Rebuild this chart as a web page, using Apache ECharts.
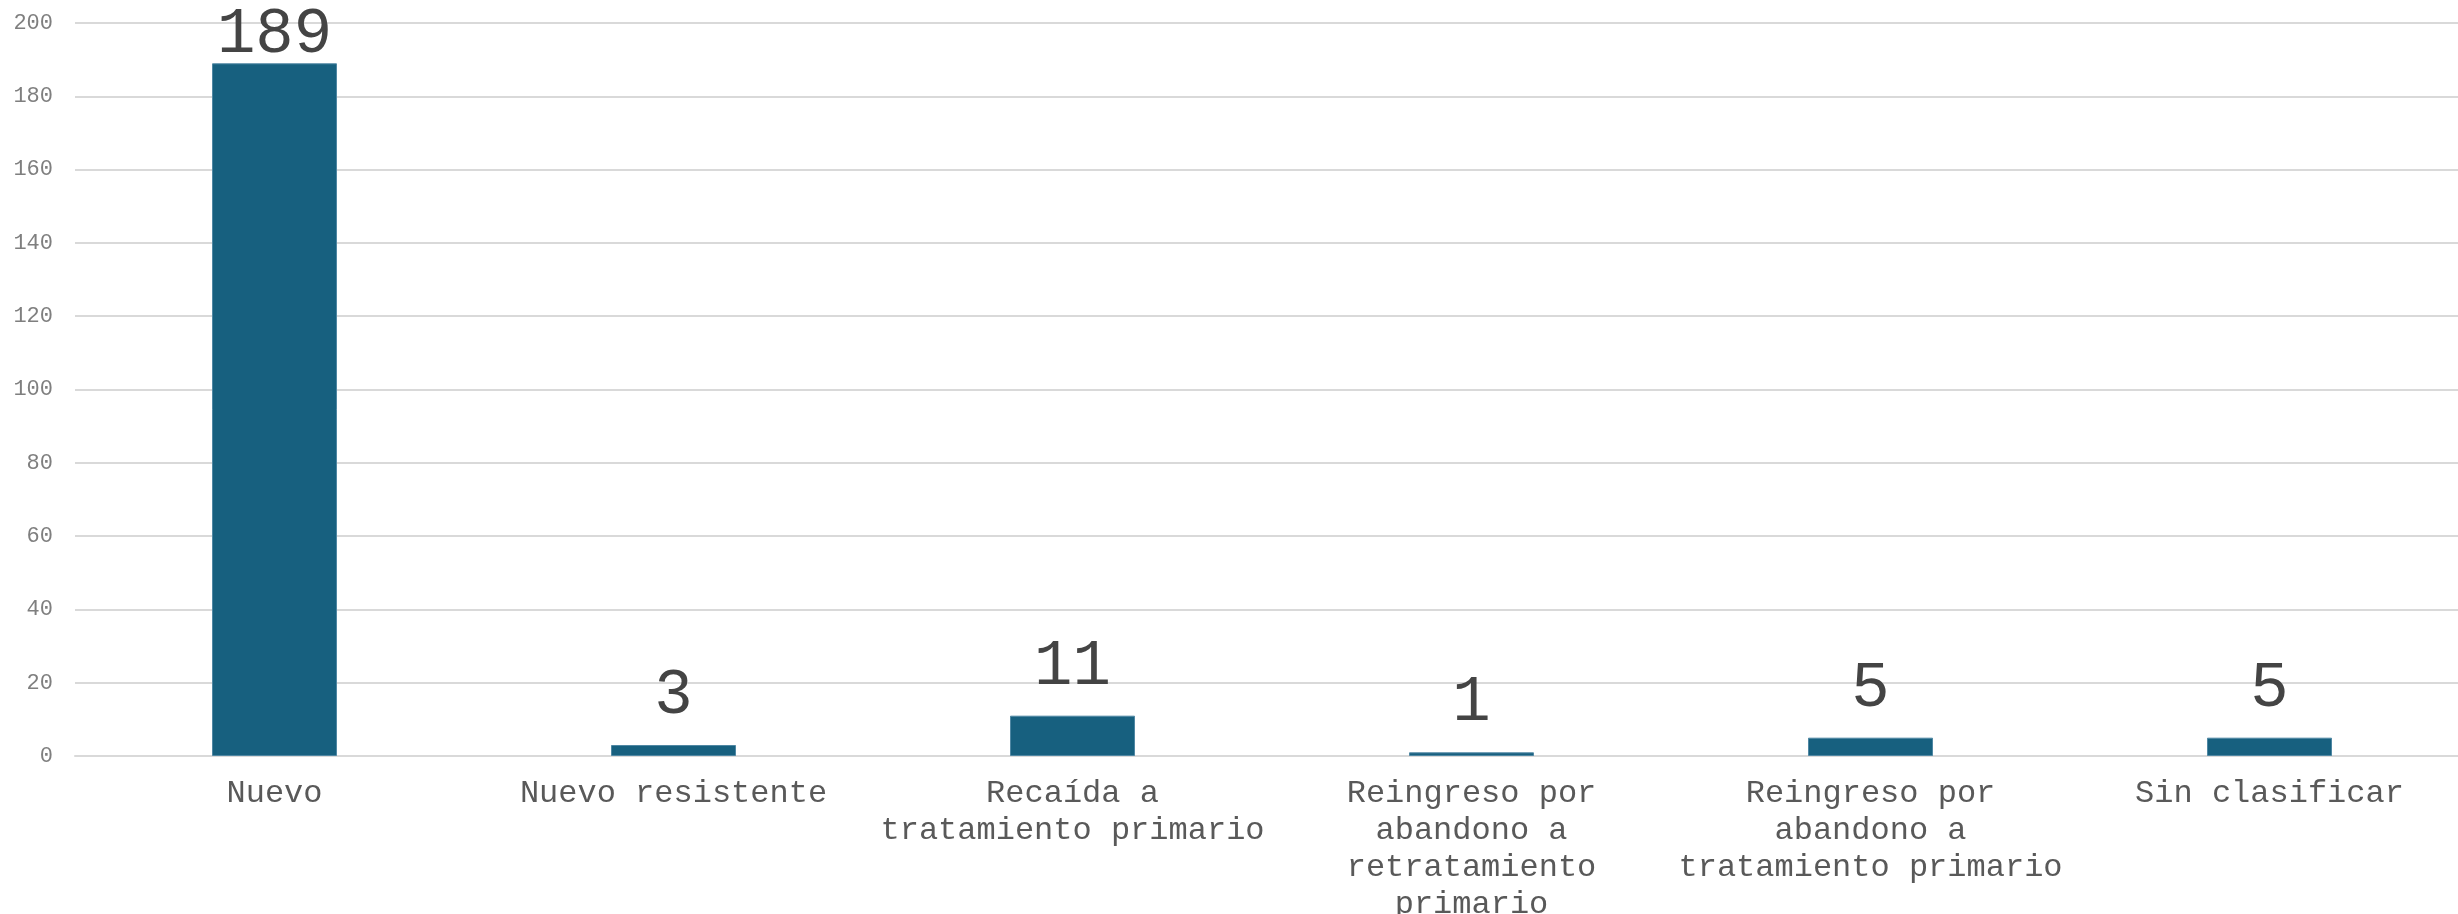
<!DOCTYPE html>
<html>
<head>
<meta charset="utf-8">
<script src="https://cdn.jsdelivr.net/npm/echarts@6/dist/echarts.min.js"></script>
<style>
  html, body { margin: 0; padding: 0; background: #ffffff; }
  #chart { width: 2458px; height: 914px; }
</style>
</head>
<body>
<div id="chart"></div>
<script>
const categories = [
  'Nuevo',
  'Nuevo resistente',
  'Recaída a\ntratamiento primario',
  'Reingreso por\nabandono a\nretratamiento\nprimario',
  'Reingreso por\nabandono a\ntratamiento primario',
  'Sin clasificar'
];
const values = [189, 3, 11, 1, 5, 5];
const yMin = 0, yMax = 200, yInterval = 20;

const chart = echarts.init(document.getElementById('chart'));
chart.setOption({
  backgroundColor: '#ffffff',
  animation: false,
  grid: { left: 75, right: -11, top: 23, bottom: 158, containLabel: false, outerBoundsMode: 'none' },
  xAxis: {
    type: 'category',
    data: categories,
    axisLine: { show: true, lineStyle: { color: '#d9d9d9', width: 2 } },
    axisTick: { show: false },
    axisLabel: {
      interval: 0,
      margin: 19,
      fontFamily: 'Liberation Mono',
      fontSize: 32,
      lineHeight: 37,
      color: '#595959',
      align: 'center'
    }
  },
  yAxis: {
    type: 'value',
    min: yMin, max: yMax, interval: yInterval,
    axisLine: { show: false },
    axisTick: { show: false },
    splitLine: { lineStyle: { color: '#d9d9d9', width: 2 } },
    axisLabel: {
      margin: 22,
      fontFamily: 'Liberation Mono',
      fontSize: 22,
      color: '#7f7f7f'
    }
  },
  series: [{
    type: 'bar',
    data: values,
    barWidth: 125,
    itemStyle: { color: '#17607f', borderColor: '#4f87a3', borderWidth: 1 },
    label: {
      show: true,
      position: 'top',
      distance: 17,
      fontFamily: 'Liberation Mono',
      fontSize: 64,
      color: '#444444'
    },
    labelLayout: function (params) {
      const r = params.labelRect;
      return { dy: r.y < 3 ? 3 - r.y : 0 };
    }
  }]
});
</script>
</body>
</html>
